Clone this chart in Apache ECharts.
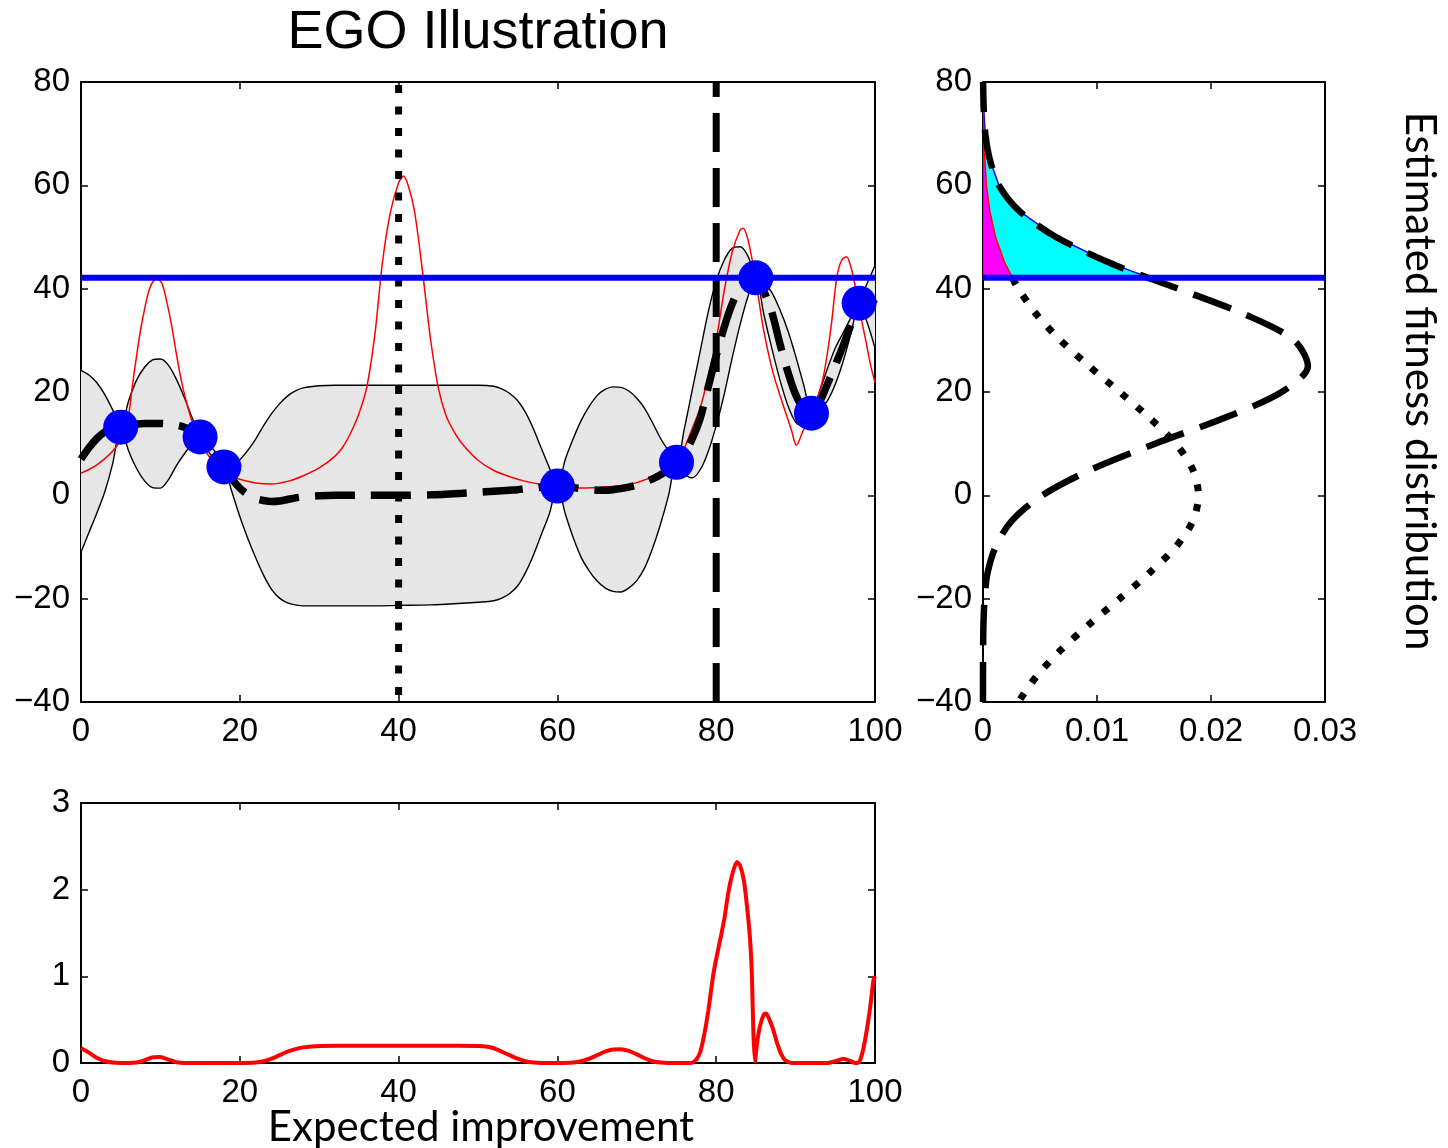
<!DOCTYPE html>
<html>
<head>
<meta charset="utf-8">
<script src="https://cdn.jsdelivr.net/npm/echarts@6/dist/echarts.min.js"></script>
<style>
html,body{margin:0;padding:0;background:#fff;}
#chart{width:1448px;height:1148px;}
</style>
</head>
<body>
<div id="chart"></div>
<script>
// ---------------- DATA ----------------
// main panel: GP band (upper / lower confidence) and predicted mean
const bandX  = [0,1,2,3,4,5,6,7,8,9,10,11,12,13,14,15,16,17,18,19,20,21,22,23,24,25,26,27,28,30,32,36,40,44,48,50,52,53,54,55,56,57,58,59,60,61,62,63,64,65,66,67,68,69,70,71,72,73,74,75,76,77,78,79,80,81,82,83,84,85,86,87,88,89,90,91,92,93,94,95,96,97,98,99,100];
const upperY = [24.2,23.3,21.8,19.5,16.5,13.2,18.3,22.3,24.8,26.2,26.4,25.2,22.5,19.0,15.0,11.3,10.2,8.2,5.5,5.7,6.9,8.7,10.9,13.5,15.8,17.7,19.2,20.2,20.8,21.2,21.3,21.3,21.3,21.3,21.3,21.3,21.1,20.6,19.7,18.3,16.0,12.8,9.0,5.3,1.8,7.0,11.0,14.5,17.2,19.3,20.5,21.0,20.9,20.2,18.8,16.8,14.0,11.0,8.6,6.4,13.0,20.5,28.0,35.5,41.5,45.5,47.8,48.1,46.3,42.2,41.0,39.3,36.0,32.0,27.0,21.5,16.2,20.0,24.5,28.5,31.5,34.5,37.4,41.0,44.5];
const lowerY = [-11.0,-7.2,-3.4,0.7,6.2,13.2,8.6,5.2,2.8,1.5,1.4,3.0,5.7,8.0,10.0,11.3,8.6,6.6,5.5,0.7,-4.1,-8.3,-12.1,-15.5,-18.2,-19.9,-20.8,-21.2,-21.4,-21.4,-21.4,-21.4,-21.3,-21.2,-20.9,-20.7,-20.4,-19.9,-19.0,-17.5,-14.9,-11.5,-7.5,-3.5,1.8,-3.6,-8.2,-12.0,-14.6,-16.6,-17.9,-18.6,-18.7,-17.9,-16.5,-14.0,-10.2,-5.5,0.0,6.4,4.2,3.4,5.0,8.5,13.5,19.5,26.5,33.0,38.5,42.2,35.0,28.5,22.5,17.5,14.2,13.3,15.9,16.5,18.3,21.5,26.0,31.5,37.0,33.5,28.5];
const meanY  = [7.0,9.2,11.0,12.3,13.0,13.2,13.6,13.8,13.9,13.9,13.9,13.8,13.6,13.2,12.4,11.3,9.4,7.4,5.5,3.2,1.4,0.2,-0.6,-1.0,-1.2,-1.1,-0.8,-0.5,-0.3,-0.1,0.0,0.0,0.0,0.1,0.4,0.6,0.8,0.9,1.0,1.1,1.3,1.4,1.6,1.7,1.8,1.7,1.5,1.3,1.1,1.0,1.0,1.1,1.3,1.6,2.0,2.6,3.2,4.0,5.0,6.4,8.2,11.0,15.0,21.0,27.0,32.5,37.0,40.3,42.0,42.2,39.5,35.5,29.5,24.0,19.5,16.8,15.9,18.0,21.5,25.2,29.0,33.2,37.2,38.3,37.0];
// main panel: thin red curve
const redX = [0,1,2,3,4,5,5.5,6,6.5,7,7.5,8,8.5,9,9.6,10.2,10.8,11.4,12,12.6,13.2,14,15,16,17,18,19,20,22,24,26,28,30,32,33,34,35,36,37,38,39,40,40.6,41.2,42,43,44,45,46,47,48,50,52,54,56,58,60,63,66,69,71,73,75,76,77,78,79,80,81,82,83,83.4,84,84.7,85.3,85.9,86.5,87.2,88,88.9,89.5,90.1,91,92.2,93,93.5,94,94.5,95.2,95.8,96.4,97,97.7,98.3,98.9,99.4,100];
const redY = [4.3,5.0,5.9,7.1,8.6,10.6,12.3,15.5,21.5,27,32,36,39.3,41.2,41.9,41,37.5,33,27.5,22.5,18.5,14.3,10.6,7.8,6.0,4.6,3.7,3.1,2.4,2.2,2.7,3.8,5.3,7.6,9.4,12.2,15.8,21,31,45.5,55,60.5,61.8,60,55,43.5,30.5,20.8,15.3,12.3,10,6.8,4.8,3.6,2.7,2.1,1.7,1.4,1.6,2.1,3.0,4.3,6.4,9.2,13,17,23,30,39.5,47,51.3,51.7,49.5,44.2,38.5,32.6,28,23.5,19.5,15.3,12.5,9.7,12.7,16.2,20,23,27.5,33,42.3,45.5,46.2,44,39.1,34,29.5,25.5,21.8];
// sampled points, best value, candidate locations
const sampleX = [5,15,18,60,75,85,92,98];
const sampleY = [13.2,11.3,5.5,1.8,6.4,42.1,15.9,37.2];
const bestY = 42.1;
const candidateDotted = 40;
const candidateDashed = 80;

// right panel: estimated fitness distributions (density, fitness)
const fitY    = [-40,-35,-30,-25,-20,-15,-10,-5,0,5,10,15,20,25,30,35,40,42,45,50,55,60,65,70,75,80];
const dottedD = [0.0031,0.0047,0.0068,0.0093,0.0120,0.0146,0.0169,0.0184,0.0189,0.0184,0.0169,0.0146,0.0120,0.0093,0.0068,0.0047,0.0031,0.0026,0.0019,0.0011,0.0006,0.0003,0.00016,0.00007,0.00003,0.00001];
const dashedD = [0.0,0.000001,0.00001,0.00004,0.00014,0.0004,0.0011,0.0025,0.0052,0.0095,0.0151,0.0212,0.0262,0.0285,0.0273,0.0230,0.0171,0.0146,0.0111,0.0064,0.0032,0.0014,0.0006,0.0002,0.00006,0.00001];

// bottom panel: expected improvement
const eiX = [0,1,2,3,4,5,6,7,8,9,10,11,12,13,14,16,18,20,22,23,24,25,26,27,28,29,30,35,40,45,50,51,52,53,54,55,56,57,58,60,62,63,64,65,66,67,68,69,70,71,72,73,74,76,77,77.5,78,78.5,79,79.6,80,80.5,81,81.5,82,82.6,83,83.5,84,84.3,84.5,84.7,84.9,85.1,85.5,86,86.3,86.7,87.2,87.7,88.2,88.7,89.5,92,94,95,96,97,97.5,98,98.5,99,99.4,99.8,100];
const eiY = [0.17,0.12,0.06,0.02,0.005,0,0,0.005,0.03,0.065,0.07,0.04,0.01,0,0,0,0,0,0.005,0.02,0.05,0.09,0.13,0.16,0.18,0.19,0.195,0.2,0.2,0.2,0.195,0.19,0.17,0.13,0.09,0.05,0.02,0.005,0,0,0.005,0.02,0.05,0.09,0.13,0.155,0.16,0.14,0.1,0.055,0.02,0.005,0,0,0.005,0.04,0.13,0.33,0.6,1.0,1.2,1.42,1.65,1.95,2.17,2.32,2.28,2.1,1.7,1.38,1.0,0.3,0.02,0.2,0.42,0.56,0.57,0.5,0.38,0.22,0.1,0.03,0,0,0,0.02,0.05,0.02,0,0.01,0.15,0.4,0.65,0.95,1.0];

// labels
const titleText = 'EGO Illustration';
const eiLabel = 'Expected improvement';
const distLabel = 'Estimated fitness distribution';

// ---------------- CHART ----------------
const pairs = (xs, ys) => xs.map((x, i) => [x, ys[i]]);
const minus = v => (v < 0 ? '\u2212' + Math.abs(v) : String(v));
const FONT = 'Liberation Sans';

function axisPair(kind, grid, min, max, interval, fmt, labelMargin) {
  const common = {
    type: 'value', gridIndex: grid, min: min, max: max, interval: interval,
    axisLine: {show: true, onZero: false, lineStyle: {color: '#000', width: 2}},
    axisTick: {show: true, inside: true, length: 7, lineStyle: {color: '#000', width: 1.5}},
    splitLine: {show: false}
  };
  const first = Object.assign({}, common, {
    position: kind === 'x' ? 'bottom' : 'left',
    axisLabel: {show: true, margin: labelMargin, color: '#000', fontSize: 33, fontFamily: FONT, formatter: fmt}
  });
  const second = Object.assign({}, common, {
    position: kind === 'x' ? 'top' : 'right',
    axisLabel: {show: false}
  });
  return [first, second];
}

const fmtDensity = v => (v === 0 ? '0' : (Math.round(v * 100) / 100).toFixed(2));

const xAxis = [].concat(
  axisPair('x', 0, 0, 100, 20, minus, 13),
  axisPair('x', 1, 0, 0.03, 0.01, fmtDensity, 13),
  axisPair('x', 2, 0, 100, 20, minus, 13)
);
const yAxis = [].concat(
  axisPair('y', 0, -40, 80, 20, minus, 11),
  axisPair('y', 1, -40, 80, 20, minus, 11),
  axisPair('y', 2, 0, 3, 1, minus, 11)
);

function bandPolygon(params, api) {
  if (params.dataIndex !== 0) return null;
  const pts = [];
  for (let i = 0; i < bandX.length; i++) pts.push(api.coord([bandX[i], upperY[i]]));
  for (let i = bandX.length - 1; i >= 0; i--) pts.push(api.coord([bandX[i], lowerY[i]]));
  return {type: 'polygon', shape: {points: pts}, style: {fill: '#e6e6e6', stroke: null}};
}

function tailPolygon(densities, fill, stroke) {
  return function (params, api) {
    if (params.dataIndex !== 0) return null;
    const pts = [api.coord([0, bestY])];
    for (let i = 0; i < fitY.length; i++) {
      if (fitY[i] >= 42) pts.push(api.coord([densities[i], Math.max(fitY[i], bestY)]));
    }
    pts.push(api.coord([0, 80]));
    return {type: 'polygon', shape: {points: pts, smooth: 0}, style: {fill: fill, stroke: stroke, lineWidth: 1.5}};
  };
}

const upperTail = fitY.map((y, i) => i).filter(i => fitY[i] <= 42);

const option = {
  animation: false,
  backgroundColor: '#fff',
  grid: [
    {left: 81, top: 82, width: 794, height: 620},
    {left: 983, top: 82, width: 342, height: 620},
    {left: 81, top: 803, width: 794, height: 260}
  ],
  xAxis: xAxis,
  yAxis: yAxis,
  graphic: [
    {type: 'text', x: 478, y: 33, style: {text: titleText, font: '54px "Liberation Sans"', fill: '#000', textAlign: 'center', textVerticalAlign: 'middle', verticalAlign: 'middle'}},
    {type: 'text', x: 481, y: 1127, style: {text: eiLabel, font: '42px Lato', fill: '#000', textAlign: 'center', textVerticalAlign: 'middle', verticalAlign: 'middle'}},
    {type: 'text', x: 1420, y: 381, rotation: -Math.PI / 2, style: {text: distLabel, font: '42px Lato', fill: '#000', textAlign: 'center', textVerticalAlign: 'middle', verticalAlign: 'middle'}}
  ],
  series: [
    // ---- main panel ----
    {type: 'custom', xAxisIndex: 0, yAxisIndex: 0, clip: true, z: 1, silent: true,
     data: pairs(bandX, upperY), renderItem: bandPolygon},
    {type: 'line', xAxisIndex: 0, yAxisIndex: 0, z: 2, data: pairs(bandX, upperY), smooth: 0.3, symbol: 'none',
     lineStyle: {color: '#000', width: 1.4}},
    {type: 'line', xAxisIndex: 0, yAxisIndex: 0, z: 2, data: pairs(bandX, lowerY), smooth: 0.3, symbol: 'none',
     lineStyle: {color: '#000', width: 1.4}},
    {type: 'line', xAxisIndex: 0, yAxisIndex: 0, z: 3, data: pairs(redX, redY), smooth: 0.3, symbol: 'none',
     lineStyle: {color: '#ff0000', width: 1.5}},
    {type: 'line', xAxisIndex: 0, yAxisIndex: 0, z: 4, data: pairs(bandX, meanY), smooth: 0.3, symbol: 'none',
     lineStyle: {color: '#000', width: 7.5, type: [40, 16], cap: 'butt'}},
    {type: 'line', xAxisIndex: 0, yAxisIndex: 0, z: 5, data: [[candidateDotted, 80], [candidateDotted, -40]], symbol: 'none',
     lineStyle: {color: '#000', width: 7, type: [8, 13.5], cap: 'butt', dashOffset: -3}},
    {type: 'line', xAxisIndex: 0, yAxisIndex: 0, z: 5, data: [[candidateDashed, -40], [candidateDashed, 80]], symbol: 'none',
     lineStyle: {color: '#000', width: 7, type: [39, 16], cap: 'butt'}},
    {type: 'line', xAxisIndex: 0, yAxisIndex: 0, z: 6, data: [[0, bestY], [100, bestY]], symbol: 'none',
     lineStyle: {color: '#0000ff', width: 6}},
    {type: 'scatter', xAxisIndex: 0, yAxisIndex: 0, z: 7, data: pairs(sampleX, sampleY), symbol: 'circle', symbolSize: 35,
     itemStyle: {color: '#0000ff', opacity: 1}},
    // ---- right panel ----
    {type: 'custom', xAxisIndex: 2, yAxisIndex: 2, clip: true, z: 3, silent: true,
     data: pairs(dashedD, fitY), renderItem: tailPolygon(dashedD, '#00ffff', '#0000ff')},
    {type: 'custom', xAxisIndex: 2, yAxisIndex: 2, clip: true, z: 4, silent: true,
     data: pairs(dottedD, fitY), renderItem: tailPolygon(dottedD, '#ff00ff', '#ff0000')},
    {type: 'line', xAxisIndex: 2, yAxisIndex: 2, z: 5, data: pairs(dashedD, fitY), smooth: 0.3, symbol: 'none',
     lineStyle: {color: '#000', width: 6.5, type: [40, 17], cap: 'butt'}},
    {type: 'line', xAxisIndex: 2, yAxisIndex: 2, z: 5,
     data: upperTail.slice().reverse().map(i => [dottedD[i], fitY[i]]), smooth: 0.3, symbol: 'none',
     lineStyle: {color: '#000', width: 7, type: [7, 13], cap: 'butt'}},
    {type: 'line', xAxisIndex: 2, yAxisIndex: 2, z: 6, data: [[0, bestY], [0.03, bestY]], symbol: 'none',
     lineStyle: {color: '#0000ff', width: 6}},
    // ---- bottom panel ----
    {type: 'line', xAxisIndex: 4, yAxisIndex: 4, z: 3, data: pairs(eiX, eiY), smooth: 0.2, symbol: 'none',
     lineStyle: {color: '#ff0000', width: 4}}
  ]
};

const chart = echarts.init(document.getElementById('chart'), null, {renderer: 'canvas'});
chart.setOption(option);
</script>
</body>
</html>
